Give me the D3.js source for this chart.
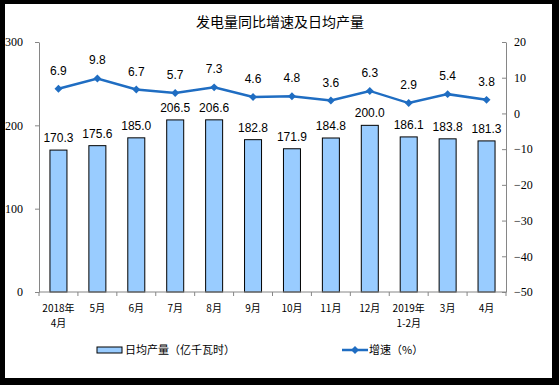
<!DOCTYPE html>
<html>
<head>
<meta charset="utf-8">
<script src="https://cdn.jsdelivr.net/npm/d3@7"></script>
<style>
  body { margin: 0; background: #000; }
  svg { display: block; }
</style>
</head>
<body>
<div id="chart"></div>
<script>
const categories = ["2018年\n4月", "5月", "6月", "7月", "8月", "9月", "10月", "11月", "12月", "2019年\n1-2月", "3月", "4月"];
const output = [170.3, 175.6, 185.0, 206.5, 206.6, 182.8, 171.9, 184.8, 200.0, 186.1, 183.8, 181.3];
const growth = [6.9, 9.8, 6.7, 5.7, 7.3, 4.6, 4.8, 3.6, 6.3, 2.9, 5.4, 3.8];
const leftTicks = [0, 100, 200, 300];
const rightTicks = [-50, -40, -30, -20, -10, 0, 10, 20];

const W = 559, H = 385;
const svg = d3.select("#chart").append("svg")
  .attr("width", W).attr("height", H);

// white panel inside black frame
svg.append("rect").attr("x", 5).attr("y", 4).attr("width", 547).attr("height", 374).attr("fill", "#fff");

svg.append("text")
  .attr("x", 280).attr("y", 27)
  .attr("text-anchor", "middle")
  .style("font-family", "'Noto Sans CJK SC'")
  .style("font-size", "14px")
  .text("发电量同比增速及日均产量");

const pLeft = 39, pRight = 506, pTop = 42, pBottom = 292;

const x = d3.scaleBand().domain(d3.range(categories.length)).range([pLeft, pRight]);
const yL = d3.scaleLinear().domain([0, 300]).range([pBottom, pTop]);
const yR = d3.scaleLinear().domain([-50, 20]).range([pBottom, pTop]);

const axisColor = "#868686";
const tickFont = "'Liberation Serif', serif";

// left axis
const gL = svg.append("g").attr("transform", `translate(${pLeft},0)`)
  .call(d3.axisLeft(yL).tickValues(leftTicks).tickSize(4).tickSizeOuter(0));
gL.select(".domain").attr("stroke", axisColor);
gL.selectAll(".tick line").attr("stroke", axisColor);
gL.selectAll(".tick text").attr("x", -16).style("font-family", tickFont).style("font-size", "12px").attr("fill", "#000");

// right axis
const gR = svg.append("g").attr("transform", `translate(${pRight},0)`)
  .call(d3.axisRight(yR).tickValues(rightTicks).tickSize(4).tickSizeOuter(0));
gR.select(".domain").attr("stroke", axisColor);
gR.selectAll(".tick line").attr("stroke", axisColor).attr("x1", -4).attr("x2", 0);
gR.selectAll(".tick text").attr("x", 8).style("font-family", tickFont).style("font-size", "12px").attr("fill", "#000");

// bars
const barW = 17;
svg.selectAll("rect.bar").data(output).enter().append("rect")
  .attr("class", "bar")
  .attr("x", (d, i) => x(i) + x.bandwidth() / 2 - barW / 2)
  .attr("y", d => yL(d))
  .attr("width", barW)
  .attr("height", d => yL(0) - yL(d))
  .attr("fill", "#99CCFF")
  .attr("stroke", "#000")
  .attr("stroke-width", 1);

// x axis
svg.append("line").attr("x1", pLeft).attr("x2", pRight).attr("y1", pBottom).attr("y2", pBottom)
  .attr("stroke", axisColor);
svg.selectAll("line.xt").data(d3.range(categories.length + 1)).enter().append("line")
  .attr("class", "xt")
  .attr("x1", i => pLeft + i * x.step()).attr("x2", i => pLeft + i * x.step())
  .attr("y1", pBottom).attr("y2", pBottom + 4)
  .attr("stroke", axisColor);

const xl = svg.selectAll("text.xl").data(categories).enter().append("text")
  .attr("class", "xl")
  .attr("text-anchor", "middle")
  .style("font-family", "'Noto Sans CJK SC'")
  .style("font-size", "10px");
xl.each(function (d, i) {
  const lines = d.split("\n");
  d3.select(this).selectAll("tspan").data(lines).enter().append("tspan")
    .attr("x", x(i) + x.bandwidth() / 2)
    .attr("y", (l, j) => 312 + j * 15)
    .text(l => l);
});

// bar labels
svg.selectAll("text.bl").data(output).enter().append("text")
  .attr("class", "bl")
  .attr("x", (d, i) => x(i) + x.bandwidth() / 2)
  .attr("y", d => yL(d) - 8)
  .attr("text-anchor", "middle")
  .style("font-family", "'Liberation Sans', Arial")
  .style("font-size", "12px")
  .text(d => d.toFixed(1));

// growth line
const lineColor = "#1F6DC2";
const line = d3.line().x((d, i) => x(i) + x.bandwidth() / 2).y(d => yR(d));
svg.append("path").datum(growth)
  .attr("d", line)
  .attr("fill", "none")
  .attr("stroke", lineColor)
  .attr("stroke-width", 2.5);

svg.selectAll("path.mk").data(growth).enter().append("path")
  .attr("class", "mk")
  .attr("d", d3.symbol(d3.symbolDiamond2, 40))
  .attr("transform", (d, i) => `translate(${x(i) + x.bandwidth() / 2},${yR(d)})`)
  .attr("fill", lineColor);

svg.selectAll("text.ll").data(growth).enter().append("text")
  .attr("class", "ll")
  .attr("x", (d, i) => x(i) + x.bandwidth() / 2)
  .attr("y", d => yR(d) - 14)
  .attr("text-anchor", "middle")
  .style("font-family", "'Liberation Sans', Arial")
  .style("font-size", "12px")
  .text(d => d.toFixed(1));

// legend
svg.append("rect").attr("x", 97).attr("y", 347).attr("width", 25).attr("height", 6)
  .attr("fill", "#99CCFF").attr("stroke", "#000");
svg.append("text").attr("x", 125).attr("y", 354)
  .style("font-family", "'Noto Sans CJK SC'").style("font-size", "11px")
  .text("日均产量（亿千瓦时）");
svg.append("line").attr("x1", 342).attr("x2", 368).attr("y1", 350).attr("y2", 350)
  .attr("stroke", lineColor).attr("stroke-width", 2.5);
svg.append("path").attr("d", d3.symbol(d3.symbolDiamond2, 40))
  .attr("transform", "translate(355,350)").attr("fill", lineColor);
svg.append("text").attr("x", 369).attr("y", 354)
  .style("font-family", "'Noto Sans CJK SC'").style("font-size", "11px")
  .text("增速（%）");
</script>
</body>
</html>
